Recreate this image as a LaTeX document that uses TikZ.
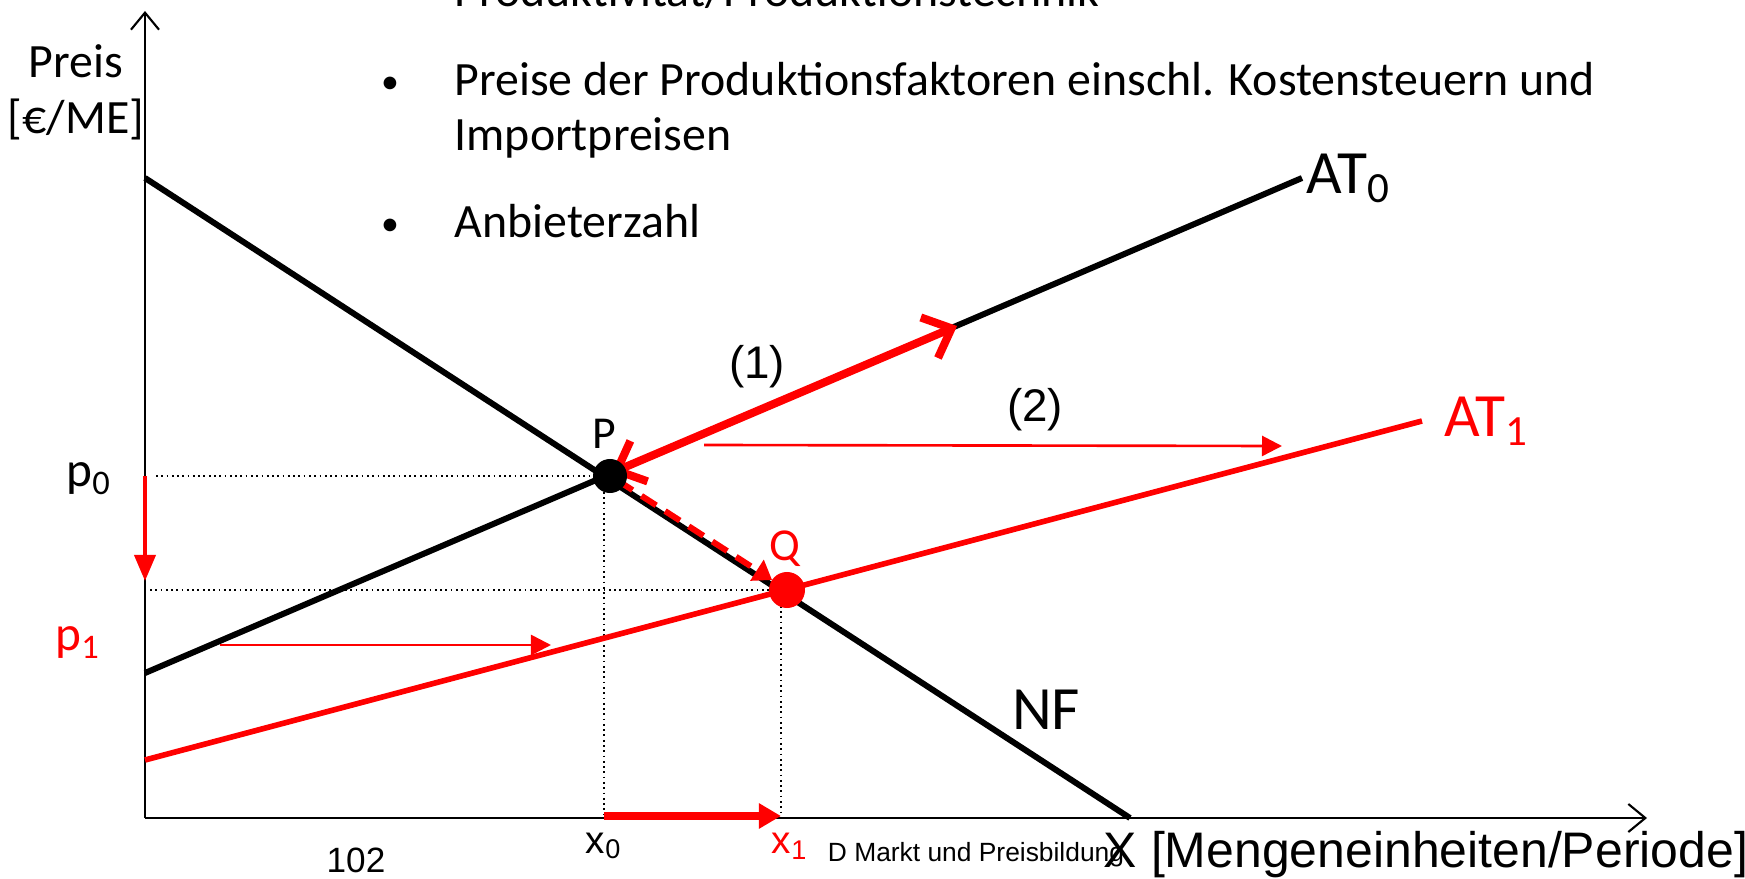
\documentclass[tikz,border=0pt]{standalone}
\usepackage{fontspec}
\setmainfont{Carlito}
\newfontfamily\arialfont{Liberation Sans}
\usepackage{tikz}
\usetikzlibrary{positioning, arrows.meta}

\begin{document}
\begin{tikzpicture}[
    x=0.01cm, y=-0.01cm,
    txt/.style={font=\fontsize{13.6}{16}\selectfont, inner sep=0pt},
    big/.style={font=\fontsize{17.5}{20}\selectfont, inner sep=1pt},
    ar/.style={font=\arialfont\fontsize{13}{15}\selectfont, inner sep=1pt},
    axis/.style={line width=0.6pt, -{Straight Barb[length=1.7mm, width=2.8mm]}},
    curve/.style={line width=1.7pt},
    guide/.style={densely dotted, line width=0.5pt},
    dot/.style={circle, inner sep=0pt, minimum size=3.4mm},
    move/.style={red, line width=0.75pt, -{Triangle[length=2mm, width=2mm]}},
  ]
    \useasboundingbox (0,0) rectangle (1745,879);
    % key points
    \coordinate (O) at (145,818);
    \coordinate (ytop) at (145,11);
    \coordinate (xend) at (1647,818);
    \coordinate (nfa) at (145,178);
    \coordinate (nfb) at (1130,818);
    \coordinate (ata) at (145,673);
    \coordinate (atb) at (1302,178);
    \coordinate (aza) at (145,760);
    \coordinate (azb) at (1422,421);
    \coordinate (P) at (604,476);
    \coordinate (Q) at (781,590);
    \coordinate (up) at (957,326);
    \coordinate (p0y) at (145,476);
    \coordinate (p1y) at (145,581);
    \coordinate (x0x) at (604,816);
    \coordinate (x1x) at (781,816);

    % bullet text
    \node[txt, anchor=base, scale=0.75] (dot1) at (390,-4) {•};
    \node[txt, anchor=base west] (item1) at (454,7) {Produktivität/Produktionstechnik};
    \node[txt, anchor=base, scale=0.75] (dot2) at (390,94) {•};
    \node[txt, anchor=base west] (item2) at (454,96) {Preise der Produktionsfaktoren einschl. Kostensteuern und};
    \node[txt, anchor=base west] (item2b) at (454,151) {Importpreisen};
    \node[txt, anchor=base, scale=0.75] (dot3) at (390,236) {•};
    \node[txt, anchor=base west] (item3) at (454,238) {Anbieterzahl};

    % axes
    \draw[axis] (O) -- (ytop);
    \draw[axis] (O) -- (xend);
    \node[txt, anchor=base] (preis) at (76,78) {Preis};
    \node[txt, anchor=base] (unit) at (76,134) {[€/ME]};

    % guide lines
    \draw[guide] (156,476) -- (P);
    \draw[guide] (P) -- (604,818);
    \draw[guide] (150,590) -- (Q);
    \draw[guide] (Q) -- (781,818);

    % curves
    \draw[curve] (nfa) -- (nfb);
    \draw[curve] (ata) -- (atb);
    \draw[curve, red, line width=1.6pt] (aza) -- (azb);
    \node[big, anchor=west] (at0) at (atb) {AT\textsubscript{0}};
    \node[big, anchor=west, red] (at1) at ([xshift=1.8mm]azb) {AT\textsubscript{1}};
    \node[big] (nf) at (1046,710) {NF};

    % shifts
    \draw[red, line width=2.3pt, {Straight Barb[length=2.4mm, width=4.4mm]}-{Straight Barb[length=2.4mm, width=4.4mm]}, shorten <=0.08cm] (P) -- (up);
    \draw[red, line width=1.7pt, dash pattern=on 5pt off 3pt, -{Triangle[length=1.8mm, width=2.4mm]}, shorten <=0.14cm, shorten >=0.13cm, transform canvas={xshift=0.02cm, yshift=0.03cm}] (P) -- (Q);
    \draw[move] (704,445) -- (1282,446);
    \draw[move] (220,645) -- (551,645);
    \draw[red, line width=1.1pt, -{Triangle[length=2.6mm, width=2.1mm]}] (p0y) -- (p1y);
    \draw[red, line width=2.5pt, -{Triangle[length=2.2mm, width=2.4mm]}] (x0x) -- (x1x);

    % equilibria
    \node[dot, fill=black] (Pdot) at ([xshift=0.06cm]P) {};
    \node[dot, fill=red, minimum size=3.6mm] (Qdot) at ([xshift=0.06cm]Q) {};
    \node[txt, font=\fontsize{13}{15}\selectfont] (plbl) at (604,434) {P};
    \node[txt, red, font=\fontsize{13}{15}\selectfont] (qlbl) at (785,549) {Q};
    \node[ar] (one) at (757,367) {(1)};
    \node[ar] (two) at (1035,410) {(2)};

    % axis labels
    \node[txt, font=\fontsize{14}{16}\selectfont] (p0) at (89,479) {p\textsubscript{0}};
    \node[txt, red, font=\fontsize{14}{16}\selectfont] (p1) at (78,643) {p\textsubscript{1}};
    \node[ar, font=\arialfont\fontsize{11}{13}\selectfont] (x0) at (604,846) {x\textsubscript{0}};
    \node[ar, red, font=\arialfont\fontsize{11}{13}\selectfont] (x1) at (790,846) {x\textsubscript{1}};
    \node[ar, font=\arialfont\fontsize{10}{12}\selectfont] (page) at (356,860) {102};
    \node[ar, font=\arialfont\fontsize{7.5}{9}\selectfont] (foot) at (976,855) {D Markt und Preisbildung};
    \node[ar, font=\arialfont\fontsize{14.2}{16}\selectfont] (xlbl) at (1426,855) {X [Mengeneinheiten/Periode]};
\end{tikzpicture}
\end{document}
